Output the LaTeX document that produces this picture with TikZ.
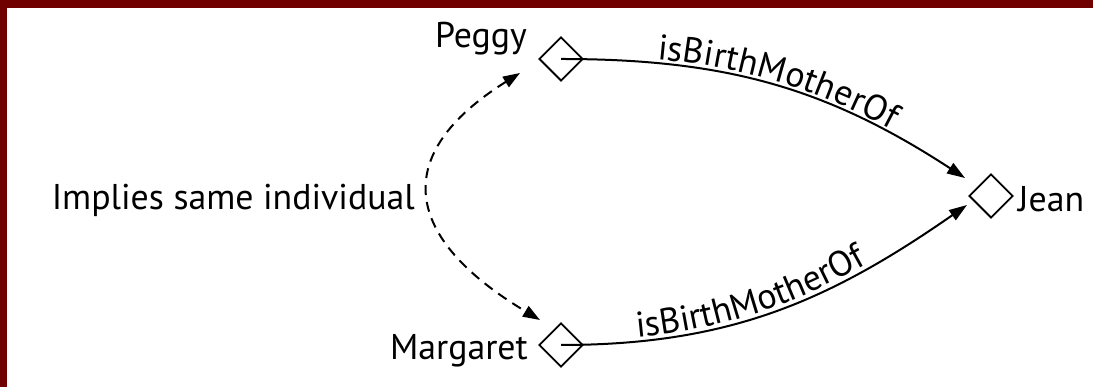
\documentclass[tikz,border=0pt]{standalone}
\usepackage{fontspec}
\setmainfont{PT Sans}
\usetikzlibrary{shapes.geometric,arrows.meta,decorations.text}
\definecolor{framered}{RGB}{112,0,0}
\newcommand\lblfont{\fontsize{35.8}{42}\selectfont}
\begin{document}
\begin{tikzpicture}[x=1pt,y=1pt,
  ind/.style={diamond,draw,line width=1.9pt,minimum width=44pt,minimum height=44pt,inner sep=0pt},
  lbl/.style={font=\lblfont,inner sep=0pt},
  rel/.style={line width=2pt,-{Triangle[length=18pt,width=12pt]}},
  same/.style={line width=2pt,dash pattern=on 10pt off 7pt,{Triangle[length=17pt,width=12pt]}-{Triangle[length=17pt,width=12pt]}},
  reltext/.style={postaction={decorate,decoration={text along path,text={|\lblfont|isBirthMotherOf},raise=4pt,text align={left indent=#1}}}}
]
\useasboundingbox (0,0) rectangle (1093,387);
\fill[white] (0,0) rectangle (1093,387);
\fill[framered] (0,379) rectangle (1093,387);
\fill[framered] (0,0) rectangle (7,387);

\node[ind] (peggy) at (561,328) {};
\node[ind] (margaret) at (561,42) {};
\node[ind] (jean) at (991,191) {};

\node[lbl,anchor=base east] (peggyl) at (527,339) {Peggy};
\node[lbl,anchor=base east] (margaretl) at (528,27) {Margaret};
\node[lbl,anchor=base west] (jeanl) at (1018,175) {Jean};
\node[lbl,anchor=base east] (implies) at (415,177) {Implies same individual};

\coordinate (jtop) at (965,209);
\coordinate (jbot) at (967,182);
\coordinate (ptip) at (520,314);
\coordinate (mtip) at (540,67);

\draw[rel,reltext=96pt] (peggy.center) .. controls (726,328) and (827,299) .. (jtop);
\draw[rel,reltext=77pt] (margaret.center) .. controls (729,42) and (829,86) .. (jbot);
\draw[same] (ptip) .. controls (389,232) and (403,149) .. (mtip);
\end{tikzpicture}
\end{document}
